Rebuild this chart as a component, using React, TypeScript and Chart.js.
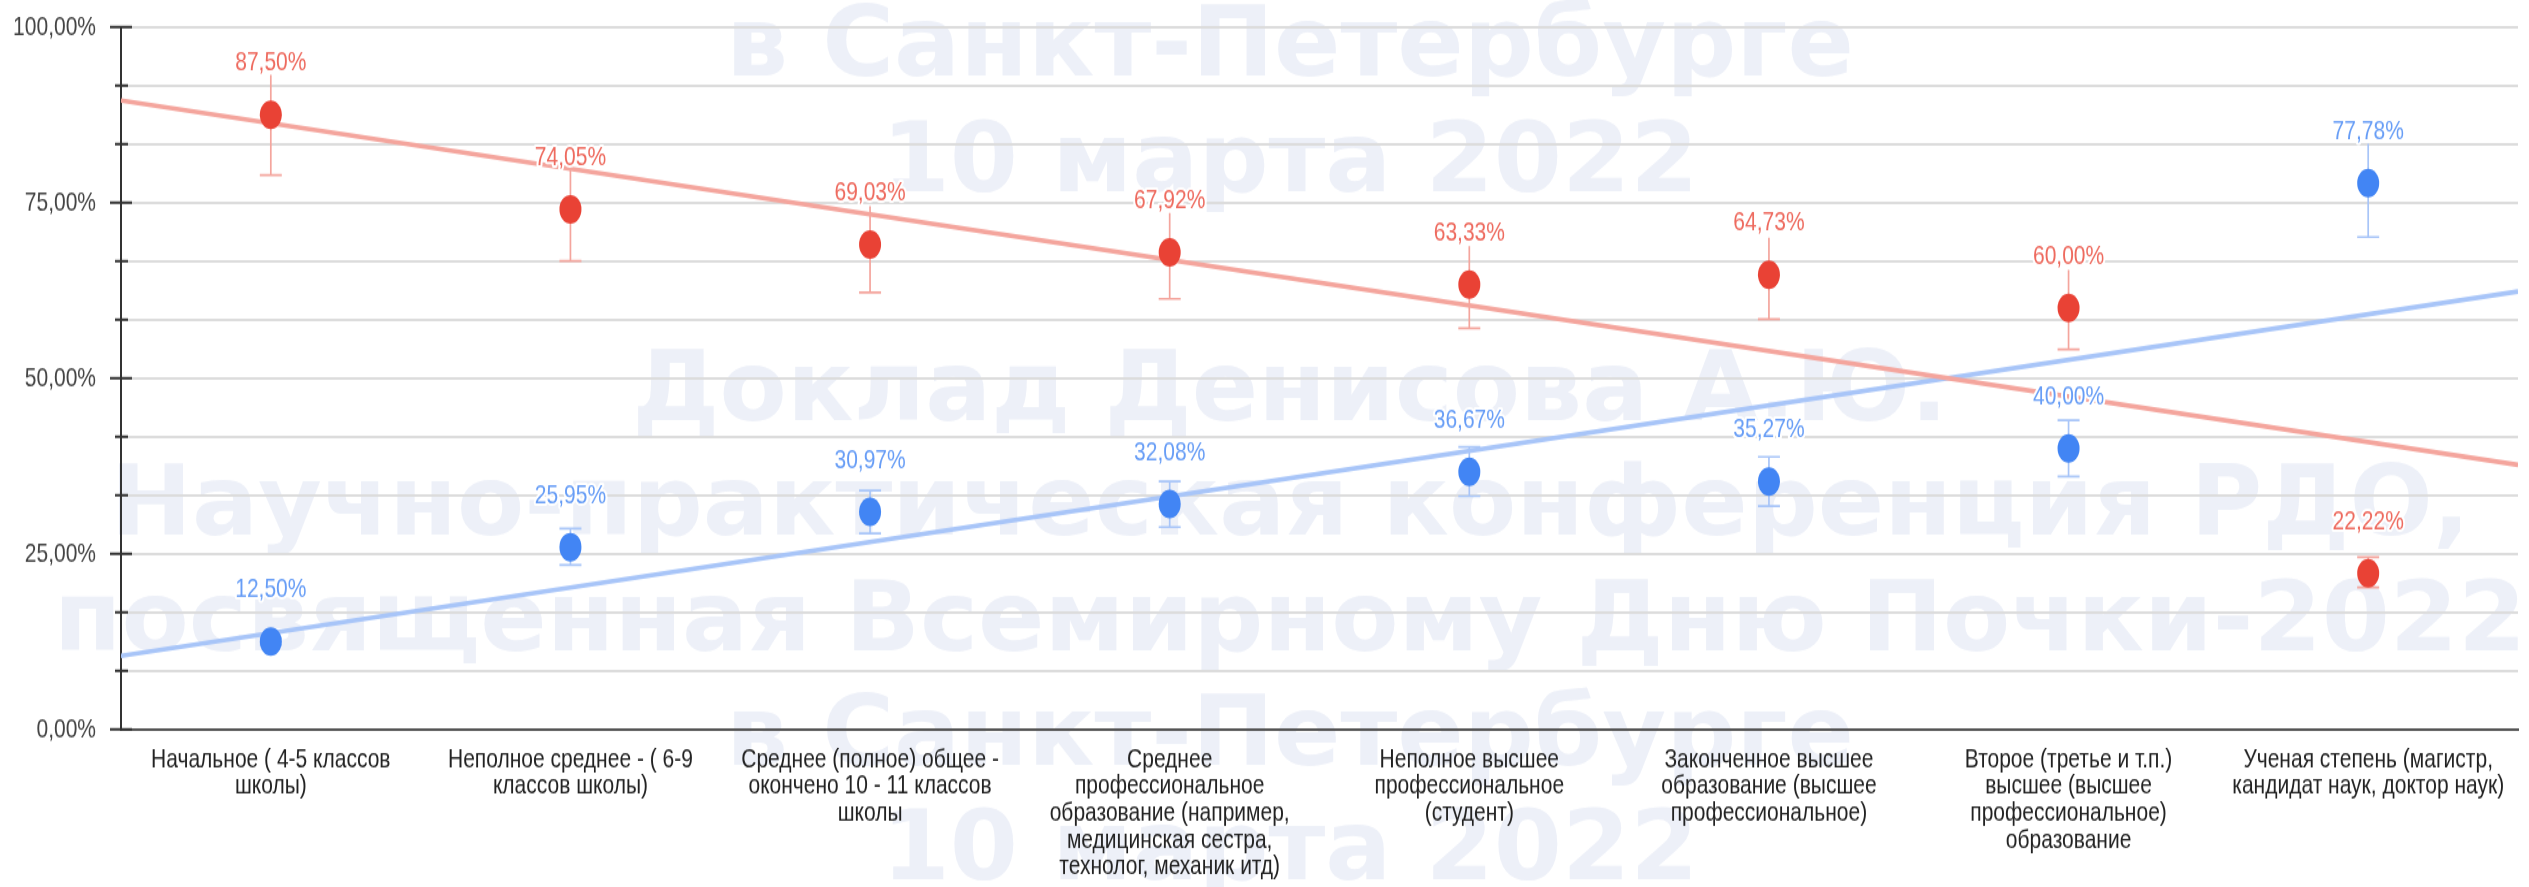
import React, { useEffect, useRef } from "react";
import { Chart, registerables } from "chart.js";

Chart.register(...registerables);

// ---------- data ----------
const categories: string[][] = [
  ["Начальное ( 4-5 классов", "школы)"],
  ["Неполное среднее - ( 6-9", "классов школы)"],
  ["Среднее (полное) общее -", "окончено 10 - 11 классов", "школы"],
  ["Среднее", "профессиональное", "образование (например,", "медицинская сестра,", "технолог, механик итд)"],
  ["Неполное высшее", "профессиональное", "(студент)"],
  ["Законченное высшее", "образование (высшее", "профессиональное)"],
  ["Второе (третье и т.п.)", "высшее (высшее", "профессиональное)", "образование"],
  ["Ученая степень (магистр,", "кандидат наук, доктор наук)"],
];

const redValues = [87.5, 74.05, 69.03, 67.92, 63.33, 64.73, 60.0, 22.22];
const redLow = [78.9, 66.7, 62.2, 61.3, 57.1, 58.4, 54.1, 20.2];
const redHigh = [93.2, 79.7, 74.5, 73.5, 68.8, 70.0, 65.4, 24.5];

const blueValues = [12.5, 25.95, 30.97, 32.08, 36.67, 35.27, 40.0, 77.78];
const blueLow = [12.0, 23.4, 27.9, 28.8, 33.2, 31.8, 36.0, 70.1];
const blueHigh = [13.0, 28.6, 34.0, 35.3, 40.2, 38.8, 44.0, 83.4];

const yTickValues = [0, 25, 50, 75, 100];
const yTickLabels = ["0,00%", "25,00%", "50,00%", "75,00%", "100,00%"];
const yMinorPerMajor = 3;

const watermarkLines = [
  "Доклад Денисова А.Ю.",
  "Научно-практическая конференция РДО,",
  "посвященная Всемирному Дню Почки-2022",
  "в Санкт-Петербурге",
  "10 марта 2022",
  "",
];

// ---------- layout / style ----------
const STRETCH = 1.3;
const WIDTH = 2529;
const CSS_HEIGHT = 887;
const HEIGHT = Math.round(CSS_HEIGHT / STRETCH);
const PLOT_TOP = 27 / STRETCH;
const PLOT_BOTTOM = 729 / STRETCH;
const AXIS_X = 121;
const LABEL_OFFSET = 44 / STRETCH;
const FONT = "'Liberation Sans', Arial, sans-serif";

const RED = "#e94235";
const RED_LIGHT = "#f4a59d";
const RED_LABEL = "#ee6a5e";
const BLUE = "#4285f4";
const BLUE_LIGHT = "#a8c5f8";
const BLUE_LABEL = "#679df6";

const series = [
  { values: redValues, low: redLow, high: redHigh, color: RED, light: RED_LIGHT, label: RED_LABEL },
  { values: blueValues, low: blueLow, high: blueHigh, color: BLUE, light: BLUE_LIGHT, label: BLUE_LABEL },
];

function linearFit(values: number[]) {
  const n = values.length;
  const mx = (n - 1) / 2;
  const my = values.reduce((a, b) => a + b, 0) / n;
  let sxy = 0;
  let sxx = 0;
  values.forEach((v, i) => {
    sxy += (i - mx) * (v - my);
    sxx += (i - mx) * (i - mx);
  });
  const slope = sxy / sxx;
  return (x: number) => my + slope * (x - mx);
}

const fmt = (v: number) => v.toFixed(2).replace(".", ",") + "%";

const watermarkPlugin = {
  id: "watermark",
  beforeDraw(chart: any) {
    const ctx = chart.ctx as CanvasRenderingContext2D;
    ctx.save();
    ctx.scale(1, 1 / STRETCH);
    ctx.font = `bold 98px 'DejaVu Sans', sans-serif`;
    ctx.fillStyle = "#edf0f8";
    ctx.textAlign = "center";
    ctx.textBaseline = "alphabetic";
    const step = 114.7;
    for (let k = -4; k <= 4; k++) {
      const line = watermarkLines[((k % 6) + 6) % 6];
      if (!line) continue;
      ctx.fillText(line, 1290, 420 + k * step);
    }
    ctx.restore();
  },
};

const errorBarPlugin = {
  id: "errorBars",
  beforeDatasetsDraw(chart: any) {
    const ctx = chart.ctx as CanvasRenderingContext2D;
    const xs = chart.scales.x;
    const ys = chart.scales.y;
    ctx.save();
    // y axis tick marks
    ctx.strokeStyle = "#333";
    ctx.lineWidth = 2;
    ys.ticks.forEach((t: any, i: number) => {
      const py = ys.getPixelForValue(t.value);
      const major = i % yMinorPerMajor === 0;
      ctx.beginPath();
      ctx.moveTo(major ? 110 : 115, py);
      ctx.lineTo(major ? 132 : 128, py);
      ctx.stroke();
    });
    // error bars
    const half = 11;
    series.forEach((s) => {
      ctx.strokeStyle = s.light;
      ctx.lineWidth = 1.7;
      s.values.forEach((v, i) => {
        const px = xs.getPixelForValue(i);
        const pc = ys.getPixelForValue(v);
        const pt = ys.getPixelForValue(s.high[i]);
        const pb = ys.getPixelForValue(s.low[i]);
        ctx.beginPath();
        ctx.moveTo(px, pt);
        ctx.lineTo(px, pb);
        ctx.moveTo(px - half, pb);
        ctx.lineTo(px + half, pb);
        if (pt - (pc - LABEL_OFFSET) > 10) {
          ctx.moveTo(px - half, pt);
          ctx.lineTo(px + half, pt);
        }
        ctx.stroke();
      });
    });
    ctx.restore();
  },
};

const labelPlugin = {
  id: "valueLabels",
  afterDatasetsDraw(chart: any) {
    const ctx = chart.ctx as CanvasRenderingContext2D;
    const xs = chart.scales.x;
    const ys = chart.scales.y;
    ctx.save();
    ctx.font = `21px ${FONT}`;
    ctx.textAlign = "center";
    ctx.textBaseline = "alphabetic";
    ctx.lineJoin = "round";
    series.forEach((s) => {
      s.values.forEach((v, i) => {
        const px = xs.getPixelForValue(i);
        const py = ys.getPixelForValue(v) - LABEL_OFFSET;
        const txt = fmt(v);
        ctx.strokeStyle = "#ffffff";
        ctx.lineWidth = 4;
        ctx.strokeText(txt, px, py);
        ctx.fillStyle = s.label;
        ctx.fillText(txt, px, py);
      });
    });
    ctx.restore();
  },
};

export default function App() {
  const ref = useRef<HTMLCanvasElement | null>(null);

  useEffect(() => {
    document.body.style.margin = "0";
    document.body.style.overflow = "hidden";
    const canvas = ref.current;
    if (!canvas) return;
    const redFit = linearFit(redValues);
    const blueFit = linearFit(blueValues);
    const xMin = -0.5;
    const xMax = categories.length - 0.5;

    const chart = new Chart(canvas, {
      type: "line",
      data: {
        datasets: [
          {
            label: "red",
            data: redValues.map((v, i) => ({ x: i, y: v })),
            showLine: false,
            pointRadius: 11,
            pointHoverRadius: 11,
            pointBackgroundColor: RED,
            pointBorderWidth: 0,
            order: 1,
          },
          {
            label: "blue",
            data: blueValues.map((v, i) => ({ x: i, y: v })),
            showLine: false,
            pointRadius: 11,
            pointHoverRadius: 11,
            pointBackgroundColor: BLUE,
            pointBorderWidth: 0,
            order: 1,
          },
          {
            label: "red trend",
            data: [
              { x: xMin, y: redFit(xMin) },
              { x: xMax, y: redFit(xMax) },
            ],
            borderColor: RED_LIGHT,
            borderWidth: 3.6,
            pointRadius: 0,
            order: 3,
          },
          {
            label: "blue trend",
            data: [
              { x: xMin, y: blueFit(xMin) },
              { x: xMax, y: blueFit(xMax) },
            ],
            borderColor: BLUE_LIGHT,
            borderWidth: 3.6,
            pointRadius: 0,
            order: 3,
          },
        ],
      },
      options: {
        responsive: false,
        animation: false,
        devicePixelRatio: 1,
        layout: { padding: { top: PLOT_TOP, left: 0, right: 0, bottom: 0 } },
        plugins: {
          legend: { display: false },
          tooltip: { enabled: false },
        },
        scales: {
          x: {
            type: "linear",
            min: xMin,
            max: xMax,
            afterBuildTicks: (s: any) => {
              s.ticks = categories.map((_, i) => ({ value: i }));
            },
            afterFit: (s: any) => {
              s.height = HEIGHT - PLOT_BOTTOM;
            },
            grid: { display: false, drawTicks: false },
            border: { display: true, color: "#555", width: 2 },
            ticks: {
              autoSkip: false,
              maxRotation: 0,
              minRotation: 0,
              padding: 13,
              color: "#222",
              font: { family: FONT, size: 21, lineHeight: 0.98 },
              callback: (_v: any, i: number) => categories[i],
            },
          },
          y: {
            type: "linear",
            min: 0,
            max: 100,
            afterBuildTicks: (s: any) => {
              const ticks: { value: number }[] = [];
              const last = yTickValues.length - 1;
              for (let j = 0; j <= last * yMinorPerMajor; j++) {
                const major = Math.floor(j / yMinorPerMajor);
                const frac = (j % yMinorPerMajor) / yMinorPerMajor;
                const v =
                  major >= last
                    ? yTickValues[last]
                    : yTickValues[major] + frac * (yTickValues[major + 1] - yTickValues[major]);
                ticks.push({ value: v });
              }
              s.ticks = ticks;
            },
            afterFit: (s: any) => {
              s.width = AXIS_X;
            },
            grid: {
              color: "#dcdcdc",
              lineWidth: 1.9,
              drawTicks: true,
              tickLength: 25,
              tickColor: "rgba(0,0,0,0)",
            },
            border: { display: true, color: "#333", width: 2 },
            ticks: {
              autoSkip: false,
              padding: 0,
              color: "#444",
              font: { family: FONT, size: 21 },
              callback: (_v: any, i: number) =>
                i % yMinorPerMajor === 0 ? yTickLabels[i / yMinorPerMajor] : "",
            },
          },
        },
      },
      plugins: [watermarkPlugin, errorBarPlugin, labelPlugin],
    } as any);

    return () => chart.destroy();
  }, []);

  return (
    <div style={{ position: "fixed", left: 0, top: 0, background: "#fff" }}>
      <canvas
        ref={ref}
        width={WIDTH}
        height={HEIGHT}
        style={{ width: `${WIDTH}px`, height: `${CSS_HEIGHT}px`, display: "block" }}
      />
    </div>
  );
}
